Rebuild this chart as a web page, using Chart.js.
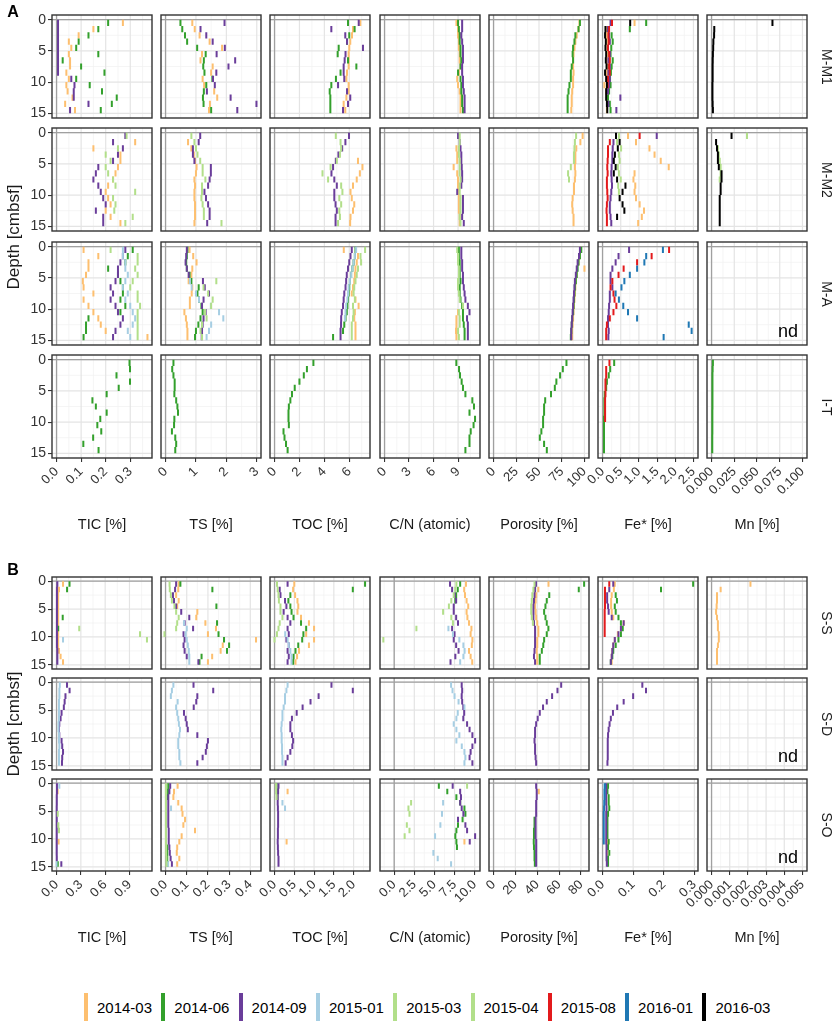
<!DOCTYPE html>
<html>
<head>
<meta charset="utf-8">
<script src="https://cdn.jsdelivr.net/npm/chart.js@4.4.1/dist/chart.umd.min.js"></script>
<style>
  body { margin: 0; background: #fff; width: 835px; height: 1025px; position: relative; overflow: hidden;
         font-family: "Liberation Sans", Arial, Helvetica, sans-serif; }
  canvas { position: absolute; }
  .t { position: absolute; white-space: nowrap; color: #1a1a1a; line-height: 1; }
</style>
</head>
<body>
<script>
// sampling dates (legend order) and their colours
const seriesNames = ['2014-03', '2014-06', '2014-09', '2015-01', '2015-03', '2015-04', '2015-08', '2016-01', '2016-03'];
const seriesColors = ['#FDBF6F', '#33A02C', '#6A3D9A', '#A6CEE3', '#B2DF8A', '#B2DF8A', '#E31A1C', '#1F78B4', '#000000'];

// each value is one 1-cm slice, from depthTop to depthTop + 1
const depthTop = [0, 1, 2, 3, 4, 5, 6, 7, 8, 9, 10, 11, 12, 13, 14];
const depthTicks = [0, 5, 10, 15];

const variables = ['TIC [%]', 'TS [%]', 'TOC [%]', 'C/N (atomic)', 'Porosity [%]', 'Fe* [%]', 'Mn [%]'];
const sitesA = ['M-M1', 'M-M2', 'M-A', 'I-T'];
const sitesB = ['S-S', 'S-D', 'S-O'];

// x data limits and ticks, panel A / panel B
const xDataA = [[0, 0.37], [0, 2.99], [0, 7.3], [0, 11.13], [0, 100], [0, 2.5], [0, 0.1]];
const xTicksA = [[0, 0.1, 0.2, 0.3], [0, 1, 2, 3], [0, 2, 4, 6], [0, 3, 6, 9], [0, 25, 50, 75, 100],
                 [0, 0.5, 1, 1.5, 2, 2.5], [0, 0.025, 0.05, 0.075, 0.1]];
const xDecA = [1, 0, 0, 0, 0, 1, 3];
const xDataB = [[0, 1.122], [0, 0.429], [0, 2.3], [-1.2, 10.1], [0, 83.2], [0, 0.297], [0, 0.005]];
const xTicksB = [[0, 0.3, 0.6, 0.9], [0, 0.1, 0.2, 0.3, 0.4], [0, 0.5, 1, 1.5, 2], [0, 2.5, 5, 7.5, 10],
                 [0, 20, 40, 60, 80], [0, 0.1, 0.2, 0.3], [0, 0.001, 0.002, 0.003, 0.004, 0.005]];
const xDecB = [1, 1, 1, 1, 0, 1, 3];

// ---------------- M-M1
const MM1_TIC = [
  ['2014-03', [0.27, 0.15, 0.09, 0.05, 0.06, 0.05, 0.055, 0.055, 0.04, 0.05, 0.04, 0.045, 0.065, 0.035, 0.075]],
  ['2014-06', [0.21, 0.17, 0.13, 0.09, 0.08, 0.17, 0.025, 0.10, 0.195, 0.08, 0.135, 0.185, 0.245, 0.225, 0.18]],
  ['2014-09', [0.006, 0.006, 0.006, 0.006, 0.006, 0.006, 0.006, 0.006, 0.006, 0.06, 0.073, 0.07, 0.07, 0.13, 0.055]]
];
const MM1_TS = [
  ['2014-03', [0.88, 0.96, 1.12, 1.45, 1.86, 1.2, 1.15, 1.55, 1.5, 1.22, 1.27, 1.6, 1.7, 1.46, 1.43]],
  ['2014-06', [0.49, 0.55, 0.64, 0.71, 1.04, 1.32, 1.26, 1.24, 1.28, 1.54, 1.34, 1.26, 1.23, 1.25, 1.5]],
  ['2014-09', [1.94, 1.15, 1.34, 1.55, 1.95, 1.68, 2.29, 2.07, 1.67, 1.56, 1.62, 1.36, 2.14, 2.99, 2.36]]
];
const MM1_TOC = [
  ['2014-03', [6.89, 6.3, 6.22, 6.08, 6.0, 5.95, 5.95, 5.95, 5.82, 5.77, 5.95, 5.95, 5.77, 5.55, 5.68]],
  ['2014-06', [5.9, 6.43, 6.0, 5.82, 5.15, 5.07, 5.9, 6.57, 5.3, 4.93, 4.56, 4.43, 4.48, 4.48, 4.48]],
  ['2014-09', [6.76, 4.56, 5.68, 5.82, 7.1, 5.7, 5.63, 5.55, 5.55, 5.6, 5.1, 5.82, 6.08, 5.9, 5.5]]
];
const MM1_CN = [
  ['2014-03', [8.8, 9.0, 9.0, 9.1, 9.1, 9.2, 9.2, 9.3, 9.1, 8.9, 9.0, 9.2, 9.3, 9.3, 9.3]],
  ['2014-06', [9.0, 9.1, 9.2, 9.2, 9.3, 9.3, 9.4, 9.3, 9.0, 9.3, 9.4, 9.4, 9.5, 9.5, 9.6]],
  ['2014-09', [9.5, 9.5, 9.4, 9.5, 9.6, 9.6, 9.6, 9.5, 9.5, 9.6, 9.6, 9.7, 9.8, 9.8, 9.8]]
];
const MM1_POR = [
  ['2014-03', [94.5, 93.5, 91.5, 90, 89, 88, 87.5, 87.5, 88, 87.5, 87.5, 86.5, 86, 86, 85.5]],
  ['2014-06', [95, 93.5, 90, 89, 87.5, 87, 87.5, 86, 85, 85, 83.5, 82.5, 81.5, 81.5, 81.5]]
];
const MM1_FE = [
  ['2014-03', [0.88, 0.12, 0.11, 0.12, 0.13, 0.13, 0.12, 0.14, 0.12, 0.12, 0.05, 0.1, 0.12, 0.13, 0.12]],
  ['2014-06', [1.2, 0.75, 0.25, 0.28, 0.24, 0.22, 0.28, 0.25, 0.23, 0.2, 0.22, 0.18, 0.15, 0.2, 0.22]],
  ['2014-09', [0.22, 0.15, 0.18, 0.2, 0.15, 0.2, 0.16, 0.2, 0.16, 0.2, 0.18, 0.15, 0.49, 0.16, 0.38]],
  ['2015-08', [0.26, 0.18, 0.16, 0.17, 0.15, 0.18, 0.2, 0.18, 0.2, 0.15, 0.14, null, null, null, null]],
  ['2016-03', [0.76, 0.08, 0.07, 0.09, 0.08, 0.1, 0.09, 0.11, 0.07, 0.1, 0.12, 0.1, 0.1, 0.12, 0.13]]
];
const MM1_MN = [
  ['2016-03', [0.067, 0.003, 0.0028, 0.002, 0.0018, 0.0015, 0.0013, 0.0012, 0.0012, 0.0012, 0.001, 0.001, 0.001, 0.0012, 0.0015]]
];

// ---------------- M-M2
const MM2_TIC = [
  ['2014-03', [null, 0.32, 0.15, 0.26, 0.26, 0.25, 0.24, 0.23, 0.21, 0.2, 0.21, 0.22, 0.2, 0.22, 0.26]],
  ['2014-09', [0.28, 0.23, 0.27, 0.25, 0.23, 0.17, 0.16, 0.15, 0.17, 0.18, 0.19, 0.2, 0.16, 0.19, 0.19]],
  ['2015-03', [0.285, null, 0.25, 0.2, 0.22, 0.2, 0.21, 0.23, 0.24, 0.32, 0.23, 0.24, 0.235, 0.31, 0.28]]
];
const MM2_TS = [
  ['2014-03', [null, 0.74, 0.85, 0.93, 0.97, 1.02, 1.0, 0.95, 0.97, 0.95, 0.95, 0.97, 0.97, 0.97, 0.95]],
  ['2014-09', [1.14, 1.09, 0.9, 0.9, 0.95, 1.49, 1.49, 1.45, 1.4, 1.28, 1.33, 1.4, 1.45, 1.45, 1.37]],
  ['2015-03', [0.85, 0.95, 1.0, 1.05, 1.14, 1.22, 1.22, 1.31, 1.2, 1.2, 1.18, 1.22, 1.26, 1.26, 1.84]]
];
const MM2_TOC = [
  ['2014-03', [null, null, null, null, 6.7, 7.06, 6.85, 6.6, 6.3, 6.1, 6.2, 6.4, 6.3, 6.1, 6.07]],
  ['2014-09', [5.98, 5.69, 5.43, 5.13, 4.92, 4.7, 4.57, 4.8, 5.0, 4.8, 4.8, 4.9, 5.0, 4.9, 4.9]],
  ['2015-03', [4.92, 5.3, 5.35, 5.25, 5.0, 4.5, 3.85, 4.3, 5.35, 5.45, 5.2, 5.35, 5.2, 5.25, 5.1]]
];
const MM2_CN = [
  ['2014-03', [null, null, 8.8, 8.9, 8.9, 8.46, 8.9, 9.0, 9.0, 9.0, 9.1, 9.1, 9.1, 9.2, 9.2]],
  ['2014-09', [9.0, 9.2, 9.3, 9.4, 9.4, 9.45, 9.5, 9.5, 9.4, 8.9, 9.6, 9.6, 9.6, 9.5, 9.7]],
  ['2015-03', [9.2, 9.2, 9.1, 9.1, 9.2, 9.2, 9.2, 9.3, 9.2, 9.2, 9.3, 9.3, 9.3, 9.2, 9.3]]
];
const MM2_POR = [
  ['2014-03', [98, 95.5, 91, 90, 90, 89.5, 90, 89.5, 88.5, 88.5, 87, 86.5, 87, 88, 88]],
  ['2015-03', [90.8, 89.5, 89, 88.5, 88.5, 85, 82, 83, null, null, null, null, null, null, null]]
];
const MM2_FE = [
  ['2014-03', [0.7, 0.92, 1.29, 1.43, 1.6, 1.82, 0.88, 0.85, 0.9, 0.88, 0.92, 1.02, 1.14, 1.08, 0.98]],
  ['2014-09', [1.49, 0.3, 0.28, 0.27, 0.27, 0.25, 0.24, 0.25, 0.26, 0.24, 0.22, 0.2, 0.2, 0.22, 0.24]],
  ['2015-03', [0.45, 0.4, 0.51, 0.45, 0.47, 0.42, 0.45, 0.5, 0.43, 0.45, null, null, null, null, null]],
  ['2015-08', [1.02, 0.2, 0.15, 0.15, 0.14, 0.13, 0.14, 0.12, 0.12, 0.13, 0.14, 0.12, 0.11, 0.12, 0.12]],
  ['2016-03', [0.37, 0.47, 0.42, 0.34, 0.31, 0.36, 0.31, 0.4, 0.63, 0.55, 0.47, 0.55, 0.6, 0.4, null]]
];
const MM2_MN = [
  ['2015-03', [0.039, null, 0.007, 0.008, 0.009, 0.01, 0.01, 0.009, null, null, null, null, null, null, null]],
  ['2016-03', [0.022, 0.005, 0.006, 0.007, 0.007, 0.008, 0.011, 0.011, 0.01, 0.01, 0.009, 0.009, 0.009, 0.009, 0.009]]
];

// ---------------- M-A
const MA_TIC = [
  ['2014-03', [0.11, 0.17, 0.13, 0.13, 0.12, 0.107, 0.11, 0.15, 0.11, 0.13, 0.15, 0.17, 0.18, 0.2, 0.37]],
  ['2014-06', [0.31, 0.29, 0.28, 0.21, 0.25, 0.26, 0.27, 0.27, 0.26, 0.28, 0.26, 0.13, 0.12, 0.12, 0.11]],
  ['2014-09', [0.28, 0.27, 0.26, 0.25, 0.25, 0.24, 0.22, 0.23, 0.22, 0.24, 0.25, 0.27, 0.26, 0.24, 0.23]],
  ['2015-01', [0.27, 0.27, 0.28, 0.28, 0.29, 0.28, 0.27, 0.29, 0.28, 0.3, 0.31, 0.32, 0.31, 0.29, 0.3]],
  ['2015-03', [0.22, 0.33, 0.33, 0.32, 0.33, 0.31, 0.3, 0.33, 0.33, 0.34, 0.33, 0.33, 0.33, 0.33, 0.33]]
];
const MA_TS = [
  ['2014-03', [0.79, 0.91, 1.02, 0.88, 0.85, 0.76, 0.88, 0.86, 0.8, 0.8, 0.62, 0.67, 0.7, 0.72, 0.72]],
  ['2014-06', [0.72, 0.7, 0.68, 0.7, 0.79, 0.85, 1.09, 1.05, 1.1, 1.18, 1.22, 1.15, 1.08, 1.0, 0.97]],
  ['2014-09', [0.7, 0.68, 0.66, 0.7, 0.76, 1.23, 1.29, 1.43, 1.25, 1.2, 1.32, 1.25, 1.22, 1.2, 1.19]],
  ['2015-01', [null, null, null, null, null, 0.8, 0.86, 1.0, 1.1, 1.49, 1.76, 1.9, 1.5, 1.43, 1.35]],
  ['2015-03', [null, null, null, null, null, 1.67, 1.25, 1.4, 1.55, 1.5, 1.3, 1.35, 1.2, 1.15, 1.2]]
];
const MA_TOC = [
  ['2014-03', [5.56, 6.7, 6.6, 6.5, 6.45, 6.4, 6.3, 6.2, 6.5, 6.75, 6.45, 6.4, 6.5, 6.5, 6.5]],
  ['2014-06', [6.5, 6.45, 6.35, 6.25, 6.15, 6.05, 6.0, 5.95, 5.9, 5.85, 5.8, 5.7, 5.6, 5.5, 4.7]],
  ['2014-09', [6.2, 6.1, 6.0, 5.9, 5.8, 5.75, 5.7, 5.6, 5.55, 5.5, 5.4, 5.35, 5.34, 5.3, 5.3]],
  ['2015-01', [6.55, 6.45, 6.35, 6.25, 6.15, 6.05, 5.95, 5.9, 5.85, 5.75, 5.7, 5.65, null, null, null]],
  ['2015-03', [7.27, 6.9, 6.95, 6.7, 6.6, 6.5, 6.4, 6.35, 6.45, 6.3, 6.35, 6.3, 6.2, 6.2, 6.2]]
];
const MA_CN = [
  ['2014-03', [null, null, null, null, null, null, null, null, null, null, 9.0, 8.8, 8.8, 8.75, 8.8]],
  ['2014-06', [9.1, 9.1, 9.2, 9.2, 9.2, 9.3, 9.2, 9.2, 9.3, 9.5, 9.6, 9.6, 9.7, 9.8, 9.8]],
  ['2014-09', [9.4, 9.4, 9.5, 9.5, 9.6, 9.6, 9.7, 9.8, 9.9, 10.2, 10.4, 10.1, 10.2, 10.2, 10.2]],
  ['2015-03', [8.9, 9.0, 9.0, 9.1, 9.1, 9.0, 9.0, 9.1, 9.2, 9.6, 9.1, 9.2, 9.2, 9.0, 9.1]]
];
const MA_POR = [
  ['2014-03', [95.5, 94.5, 93.5, 100, 91.5, 90.5, 90, 89.5, 89, 88.5, 88, 87.5, 87, 86.5, 86.5]],
  ['2014-06', [96.5, 95, 93.5, 92.5, 91.5, 90.5, 89.5, 89, 88.5, 88, 87.5, 86.5, 86, 85.5, 85]],
  ['2014-09', [95, 94, 92.5, 91.5, 90.5, 89.5, 89, 88.5, 88, 87.5, 87, 86.5, 86, 85.5, 85.5]]
];
const MA_FE = [
  ['2014-09', [0.73, 0.44, 0.36, 0.27, 0.22, 0.22, 0.27, 0.2, 0.2, 0.18, 0.17, 0.15, 0.15, 0.17, 0.16]],
  ['2015-08', [1.83, 1.35, 0.95, 0.58, 0.44, 0.27, 0.22, 0.3, 0.33, 0.38, 0.3, 0.2, 0.12, 0.1, 0.1]],
  ['2016-01', [1.66, 1.2, 1.15, 0.95, 0.75, 0.6, 0.52, 0.36, 0.45, 0.57, 0.7, 0.95, 2.37, 2.45, 1.68]]
];
const MA_MN = [];

// ---------------- I-T
const IT_TIC = [
  ['2014-06', [0.297, 0.299, 0.244, 0.299, 0.253, 0.204, 0.146, 0.16, 0.204, 0.178, 0.166, 0.182, 0.149, 0.109, 0.171]]
];
const IT_TS = [
  ['2014-06', [0.26, 0.22, 0.26, 0.3, 0.3, 0.29, 0.35, 0.39, 0.41, 0.29, 0.28, 0.21, 0.32, 0.35, 0.32]]
];
const IT_TOC = [
  ['2014-06', [3.12, 2.6, 2.35, 2.0, 1.62, 1.4, 1.27, 1.15, 1.12, 1.12, 1.15, 0.72, 0.8, 0.92, 1.05]]
];
const IT_CN = [
  ['2014-06', [8.79, 9.12, 9.24, 9.44, 9.6, 9.9, 10.75, 10.95, 10.4, 11.08, 10.9, 10.55, 10.4, 10.4, 9.9]]
];
const IT_POR = [
  ['2014-06', [80.2, 76.2, 73.2, 69.1, 67.4, 63.2, 56.8, 55.6, 55.6, 54.5, 54.5, 52.6, 50.9, 55.6, 58.6]]
];
const IT_FE = [
  ['2014-06', [0.32, 0.21, 0.17, 0.12, 0.1, 0.06, 0.05, 0.05, 0.05, 0.04, 0.04, 0.04, 0.04, 0.04, 0.04]],
  ['2015-08', [0.19, 0.1, 0.1, 0.08, 0.08, 0.08, 0.07, 0.07, 0.07, 0.07, null, null, null, null, null]]
];
const IT_MN = [
  ['2014-06', [0.0015, 0.0012, 0.001, 0.001, 0.001, 0.001, 0.001, 0.001, 0.0009, 0.0009, 0.0009, 0.0009, 0.0008, 0.0008, 0.0008]]
];

// ---------------- S-S
const SS_TIC = [
  ['2014-03', [0.08, 0.03, 0.02, 0.02, 0.02, 0.02, 0.02, 0.02, 0.02, 0.02, 0.02, 0.02, 0.03, 0.05, 0.08]],
  ['2014-06', [0.16, 0.13, null, null, null, null, 0.076, null, 0.02, null, null, null, null, null, null]],
  ['2014-09', [0.01, 0.005, 0.005, 0.005, 0.005, 0.005, 0.005, 0.005, 0.005, 0.005, 0.005, 0.005, 0.01, 0.01, 0.01]],
  ['2015-01', [null, null, null, null, null, null, null, null, null, null, 0.08, null, null, null, null]],
  ['2015-03', [null, null, null, null, null, null, null, null, 0.28, 1.03, null, null, null, null, null]],
  ['2015-04', [null, null, null, null, null, null, null, null, null, null, 1.116, null, null, null, null]]
];
const SS_TS = [
  ['2014-03', [0.062, 0.06, 0.05, 0.062, 0.055, 0.15, 0.145, 0.188, 0.238, 0.2, 0.427, 0.27, 0.26, 0.22, 0.2]],
  ['2014-06', [0.07, 0.221, null, null, 0.24, null, null, 0.243, null, 0.25, 0.276, 0.3, 0.29, 0.17, 0.16]],
  ['2014-09', [0.05, 0.045, 0.035, 0.04, 0.05, 0.074, 0.112, 0.09, 0.13, 0.085, 0.09, 0.085, 0.09, 0.1, 0.155]],
  ['2015-01', [null, null, null, null, null, null, null, 0.087, 0.1, 0.095, 0.1, 0.105, 0.11, 0.112, 0.112]],
  ['2015-03', [0.019, 0.02, 0.025, 0.03, 0.042, 0.05, 0.062, 0.055, 0.05, -0.005, null, null, null, null, null]]
];
const SS_TOC = [
  ['2014-03', [0.5, 0.47, 0.52, 0.58, 0.6, 0.58, 0.67, 0.87, 1.0, 0.8, 1.0, 0.87, 0.62, 0.57, 0.53]],
  ['2014-06', [2.29, 1.98, 0.4, 0.35, 0.4, 0.43, 0.48, 0.67, 0.8, 0.73, 0.7, 0.6, 0.53, 0.48, 0.47]],
  ['2014-09', [0.33, 0.13, 0.15, 0.265, 0.3, 0.23, 0.33, 0.4, 0.33, 0.36, 0.3, 0.36, 0.33, 0.36, 0.33]],
  ['2015-01', [null, null, null, null, null, null, null, null, null, 0.27, 0.33, 0.36, 0.4, 0.43, 0.43]],
  ['2015-03', [0.062, 0.08, 0.1, 0.11, 0.15, 0.15, 0.2, 0.13, 0.1, 0.06, 0.0, null, null, null, null]]
];
const SS_CN = [
  ['2014-03', [8.92, 8.7, 8.8, 9.0, 9.2, 9.0, 9.1, 9.3, 9.6, 9.5, 9.72, 9.65, 9.3, 9.5, 9.7]],
  ['2014-06', [8.2, 7.9, 7.7, 7.6, null, null, null, null, null, null, null, null, null, null, null]],
  ['2014-09', [6.94, 7.2, 7.53, 7.7, 7.4, 7.4, 7.7, 7.93, 7.2, 7.5, 7.4, 7.7, 8.0, 7.6, 7.0]],
  ['2015-01', [null, null, null, null, null, null, null, null, 6.74, 7.3, 8.1, 8.6, 8.75, 8.6, 8.2]],
  ['2015-03', [7.73, 7.6, 7.4, 7.1, 6.8, 6.08, 7.1, 7.3, 2.76, null, -1.35, null, null, null, null]]
];
const SS_POR = [
  ['2014-03', [50.3, 41, 39, 38.5, 38, 38.5, 39, 40, 41, 41, 40, 40, 39.5, 40, 40]],
  ['2014-06', [82.9, 78, 51, 48.7, 47.5, 46.3, 47.5, 48.7, 50.2, 48.7, 46.3, 45.5, 44.2, 42.3, 42.3]],
  ['2014-09', [38.9, 38, 37.5, 37, 36.5, 36.5, 36.5, 37, 38, 38, 38, 38, 37.5, 37, 38]],
  ['2015-03', [37.5, 36.5, 35.5, 35, 34.5, 34.5, 35, 36, null, null, null, null, null, null, null]]
];
const SS_FE = [
  ['2014-03', [0.04, 0.037, 0.03, 0.028, 0.028, 0.03, 0.035, 0.069, 0.06, 0.05, 0.04, 0.035, 0.032, 0.03, 0.03]],
  ['2014-06', [0.296, 0.191, 0.043, 0.047, 0.04, 0.043, 0.052, 0.06, 0.066, 0.06, 0.052, 0.043, 0.035, 0.032, 0.027]],
  ['2014-09', [0.035, 0.022, 0.015, 0.015, 0.018, 0.02, 0.03, 0.069, 0.06, 0.052, 0.04, 0.035, 0.032, 0.03, 0.027]],
  ['2015-08', [0.022, 0.008, 0.008, 0.008, 0.008, 0.007, 0.007, 0.007, 0.007, 0.007, null, null, null, null, null]]
];
const SS_MN = [
  ['2014-03', [0.00214, 0.0005, 0.0003, 0.0003, 0.00028, 0.00025, 0.0003, 0.00035, 0.00035, 0.0004, 0.0004, 0.00035, 0.0003, 0.0003, 0.0003]]
];

// ---------------- S-D
const SD_TIC = [
  ['2014-09', [0.129, 0.161, 0.11, 0.1, 0.09, 0.062, 0.05, 0.034, 0.03, 0.034, 0.062, 0.07, 0.08, 0.07, 0.067]],
  ['2015-01', [0.04, 0.035, 0.035, 0.03, 0.03, 0.03, 0.03, 0.025, 0.025, 0.03, 0.03, 0.035, 0.03, 0.03, 0.03]]
];
const SD_TS = [
  ['2014-09', [0.132, 0.225, 0.15, 0.145, 0.133, 0.087, 0.095, 0.1, 0.105, 0.15, 0.2, 0.195, 0.19, 0.175, 0.15]],
  ['2015-01', [0.037, 0.03, 0.025, 0.057, 0.05, 0.055, 0.06, 0.063, 0.068, 0.065, 0.06, 0.06, 0.065, 0.065, 0.07]]
];
const SD_TOC = [
  ['2014-09', [1.44, 1.98, 1.115, 0.91, 0.71, 0.56, 0.44, 0.4, 0.4, 0.44, 0.47, 0.45, 0.4, 0.33, 0.28]],
  ['2015-01', [0.33, 0.3, 0.265, 0.265, 0.23, 0.2, 0.2, 0.18, 0.17, 0.18, 0.18, 0.19, 0.19, 0.2, 0.2]]
];
const SD_CN = [
  ['2014-09', [8.39, 8.45, 8.39, 8.45, 8.59, 8.7, 8.59, 9.06, 9.37, 9.72, 10.06, 9.72, 9.5, 9.37, 9.72]],
  ['2015-01', [7.07, 7.25, 7.5, 8.0, 8.73, 7.9, 7.73, 7.4, 7.73, 8.1, 7.73, 8.4, 8.73, 8.85, 8.73]]
];
const SD_POR = [
  ['2014-09', [61.9, 58.5, 53.6, 48.7, 45.3, 42.3, 40.4, 39, 38, 38, 37.5, 38, 38, 38.5, 39]]
];
const SD_FE = [
  ['2014-09', [0.13, 0.142, 0.1, 0.069, 0.048, 0.034, 0.027, 0.023, 0.02, 0.018, 0.017, 0.017, 0.017, 0.017, 0.016]]
];
const SD_MN = [];

// ---------------- S-O
const SO_TIC = [
  ['2014-03', [null, 0.013, null, null, null, null, null, null, null, null, 0.025, null, null, null, null]],
  ['2014-06', [null, null, null, null, null, null, null, null, null, null, null, null, null, null, 0.015]],
  ['2014-09', [0.005, 0.005, 0.003, 0.003, 0.002, 0.002, 0.002, 0.002, 0.002, 0.002, 0.002, 0.002, 0.002, 0.003, 0.059]],
  ['2015-01', [0.034, null, null, null, null, null, null, null, null, null, null, null, null, null, 0.0]],
  ['2015-03', [null, null, null, null, null, 0.015, null, 0.022, 0.03, null, null, null, null, null, null]]
];
const SO_TS = [
  ['2014-03', [0.057, 0.04, 0.037, 0.06, 0.076, 0.08, 0.092, 0.084, 0.139, 0.076, 0.065, 0.055, 0.053, 0.065, 0.055]],
  ['2014-06', [0.013, 0.012, 0.01, null, null, null, null, null, null, null, null, 0.008, 0.008, 0.008, 0.01]],
  ['2014-09', [0.022, 0.018, 0.013, 0.013, 0.013, 0.013, 0.013, 0.013, 0.015, 0.015, 0.015, 0.018, 0.02, 0.024, 0.03]],
  ['2015-01', [null, null, null, null, 0.026, null, null, null, null, null, null, null, null, null, 0.012]],
  ['2015-03', [0.002, 0.002, 0.002, 0.002, 0.002, 0.002, 0.002, 0.002, 0.002, 0.002, 0.002, 0.003, 0.003, 0.004, 0.004]]
];
const SO_TOC = [
  ['2014-03', [null, 0.33, null, null, null, null, null, null, null, null, 0.305, null, null, null, null]],
  ['2014-06', [0.05, 0.06, 0.07, null, null, null, null, null, null, null, null, null, null, null, null]],
  ['2014-09', [0.1, 0.09, 0.08, 0.08, 0.085, 0.09, 0.09, 0.09, 0.085, 0.085, 0.08, 0.085, 0.09, 0.1, 0.1]],
  ['2015-01', [null, null, null, 0.2, 0.265, null, null, null, null, null, null, null, null, null, null]],
  ['2015-03', [0.037, 0.04, 0.05, null, null, null, null, null, null, null, null, null, null, null, null]]
];
const SO_CN = [
  ['2014-03', [null, null, null, null, null, null, null, null, null, null, 8.73, null, null, null, null]],
  ['2014-06', [5.55, 6.6, 7.73, 8.2, 8.73, 8.85, 8.5, 7.93, 7.73, 7.6, 7.73, 7.8, null, null, null]],
  ['2014-09', [7.27, 8.2, 8.3, 8.2, 8.39, 8.6, 7.93, 8.85, 9.06, 10.06, 9.39, null, null, null, null]],
  ['2015-01', [null, null, null, 6.08, null, 5.94, null, 5.74, null, 5.08, null, null, 4.87, 5.41, 7.07]],
  ['2015-03', [9.06, null, null, 2.1, 1.77, 1.9, null, 1.57, 1.9, 1.3, null, null, null, null, null]]
];
const SO_POR = [
  ['2014-03', [null, 41.4, null, null, null, null, null, null, null, null, null, null, null, null, null]],
  ['2014-06', [null, null, null, null, null, null, 37.5, 37.5, 37, 37, 36.8, 37, 37.5, 37.5, 37.8]],
  ['2014-09', [39, 39.5, 39.5, 39, 39, 39, 38.5, 38.5, 38.5, 38.5, 39, 39, 39, 39, 39]]
];
const SO_FE = [
  ['2014-03', [null, null, null, null, null, null, null, null, null, null, 0.017, 0.015, 0.015, null, null]],
  ['2014-06', [0.018, 0.016, 0.02, 0.02, 0.022, 0.018, 0.016, 0.016, 0.016, 0.016, 0.02, 0.018, 0.022, 0.018, 0.018]],
  ['2014-09', [0.012, 0.012, 0.012, 0.012, 0.013, 0.012, 0.012, 0.012, 0.012, 0.012, 0.012, 0.013, 0.013, 0.013, 0.014]],
  ['2015-01', [0.004, 0.004, 0.005, 0.004, null, null, null, null, null, null, null, null, null, null, null]],
  ['2016-01', [0.008, 0.007, 0.007, 0.006, 0.005, 0.004, 0.004, 0.004, 0.004, 0.004, 0.004, null, null, null, null]]
];
const SO_MN = [];

const panelsA = [
  [MM1_TIC, MM1_TS, MM1_TOC, MM1_CN, MM1_POR, MM1_FE, MM1_MN],
  [MM2_TIC, MM2_TS, MM2_TOC, MM2_CN, MM2_POR, MM2_FE, MM2_MN],
  [MA_TIC, MA_TS, MA_TOC, MA_CN, MA_POR, MA_FE, MA_MN],
  [IT_TIC, IT_TS, IT_TOC, IT_CN, IT_POR, IT_FE, IT_MN]
];
const panelsB = [
  [SS_TIC, SS_TS, SS_TOC, SS_CN, SS_POR, SS_FE, SS_MN],
  [SD_TIC, SD_TS, SD_TOC, SD_CN, SD_POR, SD_FE, SD_MN],
  [SO_TIC, SO_TS, SO_TOC, SO_CN, SO_POR, SO_FE, SO_MN]
];

// ---------------- layout
const FONT = '"Liberation Sans", Arial, Helvetica, sans-serif';
const colLeft = [52, 161, 270, 380, 489, 598, 707];
const PW = 100;
const rowTopA = [15, 128, 242, 355], PH_A = 103;
const rowTopB = [577, 678, 779], PH_B = 92;
const ML = 52, MR = 6, MT = 4, MB = 62;

function colorOf(name) { return seriesColors[seriesNames.indexOf(name)]; }

function segments(values) {
  const pts = [];
  values.forEach((v, i) => {
    if (v === null) return;
    pts.push({ x: v, y: depthTop[i] }, { x: v, y: depthTop[i] + 1 }, { x: null, y: null });
  });
  return pts;
}

function minorOf(major, lo, hi) {
  const out = [];
  const step = major[1] - major[0];
  [major[0] - step / 2, ...major.map(v => v + step / 2)].forEach(v => { if (v > lo && v < hi) out.push(v); });
  return out;
}

const panelDecor = {
  id: 'panelDecor',
  beforeDatasetsDraw(chart, args, o) {
    const { ctx, chartArea: a, scales: { x, y } } = chart;
    ctx.save();
    ctx.beginPath(); ctx.rect(a.left, a.top, a.width, a.height); ctx.clip();
    const vline = (v, c, w) => { const p = x.getPixelForValue(v); ctx.strokeStyle = c; ctx.lineWidth = w;
      ctx.beginPath(); ctx.moveTo(p, a.top); ctx.lineTo(p, a.bottom); ctx.stroke(); };
    const hline = (v, c, w) => { const p = y.getPixelForValue(v); ctx.strokeStyle = c; ctx.lineWidth = w;
      ctx.beginPath(); ctx.moveTo(a.left, p); ctx.lineTo(a.right, p); ctx.stroke(); };
    o.xMinor.forEach(v => vline(v, '#F0F0F0', 0.7));
    o.yMinor.forEach(v => hline(v, '#F0F0F0', 0.7));
    o.xMajor.forEach(v => vline(v, '#E4E4E4', 1.2));
    depthTicks.forEach(v => hline(v, '#E4E4E4', 1.2));
    vline(0, '#A0A0A0', 1.3);
    hline(0, '#A0A0A0', 1.3);
    ctx.restore();
  },
  afterDatasetsDraw(chart) {
    const { ctx, chartArea: a } = chart;
    ctx.save();
    ctx.strokeStyle = '#333333'; ctx.lineWidth = 1.4;
    ctx.strokeRect(a.left, a.top, a.width, a.height);
    ctx.restore();
  }
};

function makePanel(list, c, top, h, showX, xData, xTicks, xDec) {
  const showY = c === 0;
  const W = PW + ML + MR, H = h + MT + MB;
  const cv = document.createElement('canvas');
  cv.width = W; cv.height = H;
  cv.style.left = (colLeft[c] - ML) + 'px';
  cv.style.top = (top - MT) + 'px';
  cv.style.width = W + 'px'; cv.style.height = H + 'px';
  document.body.appendChild(cv);

  const [lo, hi] = xData;
  const span = hi - lo;
  const xMin = lo - 0.05 * span, xMax = hi + 0.05 * span;

  const datasets = list.map(([name, values]) => ({
    label: name,
    data: segments(values),
    borderColor: colorOf(name),
    borderWidth: 2,
    pointRadius: 0,
    fill: false,
    spanGaps: false,
    borderCapStyle: 'butt',
    order: -seriesNames.indexOf(name)
  }));

  new Chart(cv, {
    type: 'line',
    data: { datasets },
    options: {
      responsive: false, animation: false, devicePixelRatio: 1,
      layout: { padding: { left: showY ? 0 : ML, right: MR, top: MT, bottom: showX ? 0 : MB } },
      plugins: {
        legend: { display: false }, tooltip: { enabled: false },
        panelDecor: { xMajor: xTicks, xMinor: minorOf(xTicks, xMin, xMax), yMinor: minorOf(depthTicks, -0.75, 15.75) }
      },
      scales: {
        x: {
          type: 'linear', min: xMin, max: xMax, display: showX,
          afterBuildTicks: s => { s.ticks = xTicks.map(v => ({ value: v })); },
          afterFit: s => { if (showX) { s.height = MB; s.paddingLeft = 0; s.paddingRight = 0; } },
          grid: { drawOnChartArea: false, drawTicks: true, tickLength: 4, color: '#333', lineWidth: 1.1 },
          border: { display: false },
          ticks: { autoSkip: false, minRotation: 45, maxRotation: 45, padding: 2, color: '#333',
                   font: { family: FONT, size: 13 }, callback: v => Number(v).toFixed(xDec) }
        },
        y: {
          type: 'linear', reverse: true, min: -0.75, max: 15.75, display: showY,
          afterBuildTicks: s => { s.ticks = depthTicks.map(v => ({ value: v })); },
          afterFit: s => { if (showY) { s.width = ML; s.paddingTop = 0; s.paddingBottom = 0; } },
          grid: { drawOnChartArea: false, drawTicks: true, tickLength: 4, color: '#333', lineWidth: 1.1 },
          border: { display: false },
          ticks: { autoSkip: false, padding: 2, color: '#333', font: { family: FONT, size: 14 },
                   callback: v => String(v) }
        }
      }
    },
    plugins: [panelDecor]
  });
}

function addText(txt, x, y, css, transform) {
  const d = document.createElement('div');
  d.className = 't';
  d.textContent = txt;
  d.style.left = x + 'px'; d.style.top = y + 'px';
  d.style.transform = 'translate(-50%,-50%)' + (transform ? ' ' + transform : '');
  Object.assign(d.style, css || {});
  document.body.appendChild(d);
}

function buildSection(panels, sites, rowTops, h, xData, xTicks, xDec, titleY, letter, letterY) {
  panels.forEach((row, r) => {
    const last = r === rowTops.length - 1;
    row.forEach((list, c) => {
      makePanel(list, c, rowTops[r], h, last, xData[c], xTicks[c], xDec[c]);
      if (c === 6 && list.length === 0) {
        addText('nd', colLeft[c] + PW - 19, rowTops[r] + h - 14, { fontSize: '18px', color: '#000' });
      }
    });
    addText(sites[r], 827, rowTops[r] + h / 2, { fontSize: '14px' }, 'rotate(90deg)');
  });
  variables.forEach((v, c) => addText(v, colLeft[c] + PW / 2, titleY, { fontSize: '14.5px' }));
  const mid = (rowTops[0] + rowTops[rowTops.length - 1] + h) / 2;
  addText('Depth [cmbsf]', 13, mid, { fontSize: '17px' }, 'rotate(-90deg)');
  addText(letter, 13, letterY, { fontSize: '16px', fontWeight: 'bold', color: '#000' });
}

buildSection(panelsA, sitesA, rowTopA, PH_A, xDataA, xTicksA, xDecA, 524, 'A', 12);
buildSection(panelsB, sitesB, rowTopB, PH_B, xDataB, xTicksB, xDecB, 937, 'B', 570);

// legend
seriesNames.forEach((name, i) => {
  const x0 = 84 + i * 77.3;
  const bar = document.createElement('div');
  bar.style.cssText = `position:absolute;left:${x0}px;top:993px;width:4px;height:28px;background:${seriesColors[i]}`;
  document.body.appendChild(bar);
  const lab = document.createElement('div');
  lab.className = 't';
  lab.textContent = name;
  lab.style.cssText += `left:${x0 + 13}px;top:1000px;font-size:15px;color:#000`;
  document.body.appendChild(lab);
});
</script>
</body>
</html>
